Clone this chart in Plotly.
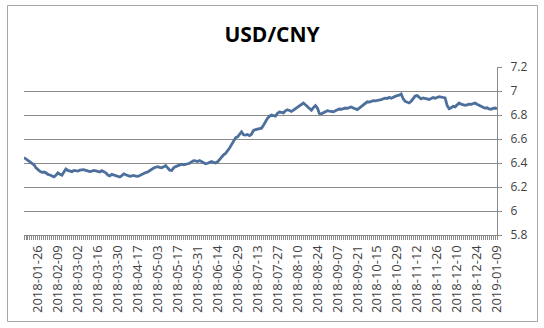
import pandas as pd
import plotly.graph_objects as go

# ---------------- data ----------------
start_date = "2018-01-17"
end_date = "2019-01-09"
holidays = ["2018-02-15", "2018-02-16", "2018-02-19", "2018-02-20", "2018-02-21",
            "2018-04-05", "2018-04-06", "2018-04-30", "2018-05-01", "2018-06-18",
            "2018-09-24", "2018-10-01", "2018-10-02", "2018-10-03", "2018-10-04",
            "2018-10-05", "2018-12-31", "2019-01-01"]

usd_cny = [
    6.445, 6.432, 6.420, 6.412, 6.400, 6.385, 6.360, 6.342, 6.330, 6.322,
    6.325, 6.318, 6.305, 6.300, 6.292, 6.285, 6.298, 6.318, 6.305, 6.298,
    6.325, 6.350, 6.338, 6.330, 6.328, 6.338, 6.335, 6.332, 6.340, 6.342,
    6.345, 6.338, 6.335, 6.328, 6.332, 6.338, 6.335, 6.330, 6.325, 6.336,
    6.330, 6.318, 6.300, 6.293, 6.305, 6.300, 6.296, 6.288, 6.283, 6.295,
    6.310, 6.302, 6.295, 6.290, 6.292, 6.296, 6.290, 6.288, 6.295, 6.305,
    6.312, 6.320, 6.325, 6.338, 6.350, 6.358, 6.365, 6.370, 6.364, 6.360,
    6.368, 6.378, 6.360, 6.340, 6.338, 6.360, 6.370, 6.375, 6.385, 6.390,
    6.385, 6.390, 6.395, 6.398, 6.410, 6.420, 6.418, 6.412, 6.420, 6.413,
    6.400, 6.394, 6.398, 6.408, 6.413, 6.405, 6.400, 6.410, 6.430, 6.455,
    6.468, 6.480, 6.500, 6.525, 6.553, 6.585, 6.610, 6.618, 6.640, 6.660,
    6.635, 6.632, 6.638, 6.628, 6.640, 6.672, 6.678, 6.680, 6.684, 6.690,
    6.715, 6.750, 6.772, 6.790, 6.800, 6.795, 6.790, 6.815, 6.825, 6.822,
    6.818, 6.835, 6.844, 6.838, 6.830, 6.840, 6.852, 6.860, 6.872, 6.888,
    6.900, 6.885, 6.868, 6.855, 6.840, 6.862, 6.878, 6.858, 6.812, 6.810,
    6.818, 6.822, 6.836, 6.832, 6.828, 6.826, 6.835, 6.842, 6.850, 6.848,
    6.852, 6.858, 6.855, 6.862, 6.867, 6.858, 6.848, 6.845, 6.858, 6.872,
    6.888, 6.902, 6.910, 6.908, 6.915, 6.920, 6.918, 6.922, 6.920, 6.928,
    6.935, 6.940, 6.938, 6.947, 6.940, 6.950, 6.955, 6.962, 6.965, 6.975,
    6.935, 6.913, 6.905, 6.900, 6.915, 6.940, 6.958, 6.962, 6.948, 6.935,
    6.942, 6.940, 6.935, 6.930, 6.938, 6.945, 6.940, 6.945, 6.953, 6.950,
    6.945, 6.942, 6.880, 6.852, 6.860, 6.872, 6.868, 6.885, 6.900, 6.890,
    6.886, 6.880, 6.885, 6.890, 6.888, 6.895, 6.900, 6.890, 6.880, 6.872,
    6.865, 6.858, 6.860, 6.850, 6.848, 6.855, 6.858, 6.852,
]

tick_labels = ["2018-01-26", "2018-02-09", "2018-03-02", "2018-03-16", "2018-03-30",
               "2018-04-17", "2018-05-03", "2018-05-17", "2018-05-31", "2018-06-14",
               "2018-06-29", "2018-07-13", "2018-07-27", "2018-08-10", "2018-08-24",
               "2018-09-07", "2018-09-21", "2018-10-15", "2018-10-29", "2018-11-12",
               "2018-11-26", "2018-12-10", "2018-12-24", "2019-01-09"]

y_ticks = [5.8, 6.0, 6.2, 6.4, 6.6, 6.8, 7.0, 7.2]

# ---------------- build ----------------
days = pd.bdate_range(start_date, end_date)
days = [d.strftime("%Y-%m-%d") for d in days if d.strftime("%Y-%m-%d") not in holidays]
if len(days) != len(usd_cny):
    raise SystemExit(f"length mismatch: {len(days)} dates vs {len(usd_cny)} values")

tick_text = [d if d in tick_labels else "" for d in days]

W, H = 544, 328
L, R, T, B = 24, 47, 67, 93
pw, ph = W - L - R, H - T - B


def px_x(px):
    return (px - L) / pw


def px_y(py):
    return (H - B - py) / ph


grid_col = "#8a8a8a"
text_col = "#404040"

fig = go.Figure()
fig.add_trace(go.Scatter(
    x=days, y=usd_cny, mode="lines",
    line=dict(color="#4d6f9c", width=2.8),
    hoverinfo="x+y", showlegend=False,
))

fig.update_layout(
    width=W, height=H,
    margin=dict(l=L, r=R, t=T, b=B, pad=0),
    paper_bgcolor="white", plot_bgcolor="white",
    title=dict(text="<b>USD/CNY</b>", x=0.5, xref="container", xanchor="center",
               y=1 - 35 / H, yref="container", yanchor="middle",
               font=dict(family="Open Sans", size=21, color="#000000")),
    xaxis=dict(
        type="category", range=[0, len(days) - 1],
        tickmode="array", tickvals=days, ticktext=tick_text,
        tickangle=-90, ticks="outside", ticklen=4, tickcolor=grid_col, tickwidth=1,
        tickfont=dict(family="Open Sans", size=13, color=text_col),
        showgrid=False, showline=True, linecolor=grid_col, linewidth=1,
        zeroline=False,
    ),
    yaxis=dict(
        range=[5.8, 7.2], side="right", tickmode="array", tickvals=y_ticks,
        ticks="outside", ticklen=4, tickcolor=grid_col,
        tickfont=dict(family="Open Sans", size=12, color=text_col),
        ticklabelstandoff=6,
        showgrid=True, gridcolor=grid_col, gridwidth=1,
        showline=True, linecolor=grid_col, linewidth=1, zeroline=False,
    ),
    shapes=[dict(type="rect", xref="paper", yref="paper",
                 x0=px_x(7.5), x1=px_x(537.5), y0=px_y(321.5), y1=px_y(5.5),
                 line=dict(color="#a6a6a6", width=1), layer="below")],
)

fig.write_html("out.html")
